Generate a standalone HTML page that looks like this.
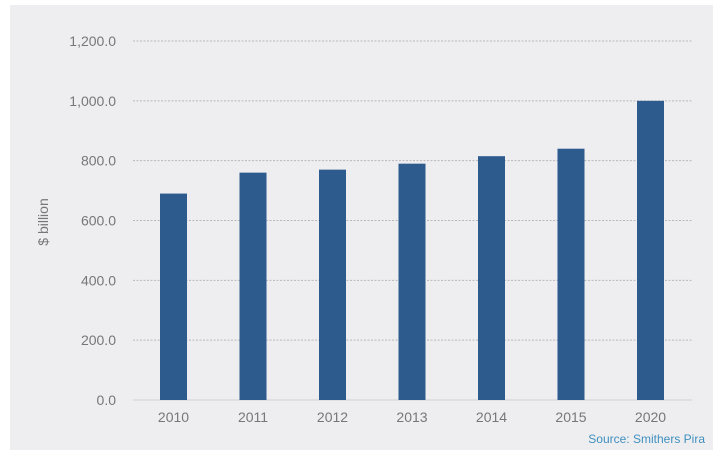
<!DOCTYPE html>
<html><head><meta charset="utf-8"><style>
body{margin:0;background:#fff;width:720px;height:463px;overflow:hidden;font-family:"Liberation Sans",sans-serif}
</style></head><body>
<svg id="chart" width="720" height="463" xmlns="http://www.w3.org/2000/svg">
<rect x="10" y="5" width="703" height="445" fill="#eeeef0"/>
<text transform="translate(48,222) rotate(-90)" text-anchor="middle" font-size="14" fill="#777">$ billion</text>
<text x="705" y="443" text-anchor="end" font-size="12" fill="#3f8fbf">Source: Smithers Pira</text>
<g id="grid"></g><g id="bars"></g><g id="labels"></g>
</svg>
<script>
const categories=["2010","2011","2012","2013","2014","2015","2020"];
const values=[690,760,770,790,815,840,1000];
const yTicks=[0,200,400,600,800,1000,1200];
const yTickLabels=["0.0","200.0","400.0","600.0","800.0","1,000.0","1,200.0"];
const NS="http://www.w3.org/2000/svg";
const y0=400,y1=41,vmax=1200;
function y(v){return y0-(v/vmax)*(y0-y1);}
function xc(i){return 173.5+i*79.5;}
const grid=document.getElementById('grid'),bars=document.getElementById('bars'),labels=document.getElementById('labels');
yTicks.forEach((t,i)=>{
  const l=document.createElementNS(NS,'line');
  
  
  l.setAttribute('x1',133);l.setAttribute('x2',692);l.setAttribute('y1',y(t));l.setAttribute('y2',y(t));
  l.setAttribute('stroke',t===0?'#d0d0d4':'#b8b8bc');l.setAttribute('stroke-width',1);
  if(t!==0)l.setAttribute('stroke-dasharray','2,1.5');
  grid.appendChild(l);
  const tx=document.createElementNS(NS,'text');
  
  
  tx.setAttribute('x',116);tx.setAttribute('y',y(t)+5);tx.setAttribute('text-anchor','end');
  tx.setAttribute('font-size','14');tx.setAttribute('fill','#777');tx.textContent=yTickLabels[i];
  labels.appendChild(tx);
});
categories.forEach((c,i)=>{
  const r=document.createElementNS(NS,'rect');
  
  
  r.setAttribute('x',xc(i)-13.5);r.setAttribute('width',27);
  r.setAttribute('y',y(values[i]));r.setAttribute('height',y0-y(values[i]));
  r.setAttribute('fill','#2d5b8d');
  bars.appendChild(r);
  const tx=document.createElementNS(NS,'text');
  
  
  tx.setAttribute('x',xc(i));tx.setAttribute('y',422);tx.setAttribute('text-anchor','middle');
  tx.setAttribute('font-size','14');tx.setAttribute('fill','#777');tx.textContent=c;
  labels.appendChild(tx);
});
</script>
</body></html>
